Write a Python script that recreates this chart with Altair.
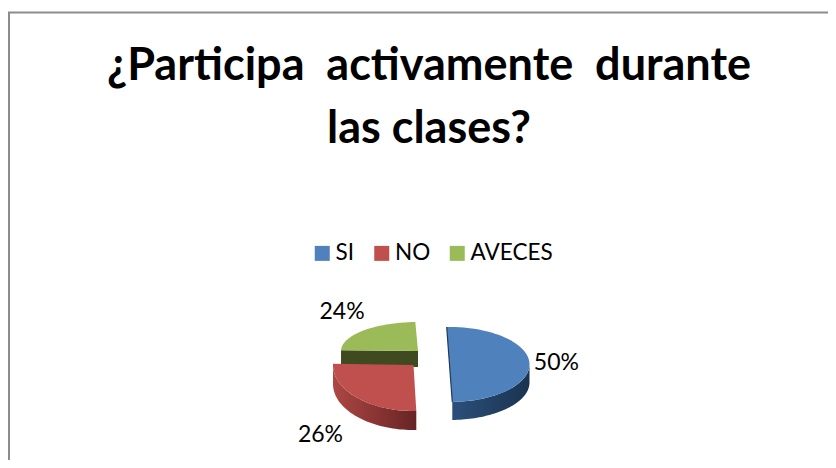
import numpy as np
import pandas as pd
import altair as alt

# --- chart values ---
categories = ["SI", "NO", "AVECES"]
shares = [50, 26, 24]
labels = ["50%", "26%", "24%"]
colors = ["#4f81bd", "#c0504d", "#9bbb59"]
title_lines = ["¿Participa\u00a0 activamente\u00a0 durante", "las clases?"]

# --- 3D pie geometry (reference pixel space) ---
W, H = 820, 452
START = -2.0
cx = [449.5, 413.5, 418.0]
cy = [364.5, 365.0, 351.0]
rx = [80.0, 80.5, 77.0]
ry = [37.5, 46.0, 29.0]
depth = [18.0, 19.0, 16.0]
lab_rx = [107.0, 132.0, 107.0]
lab_ry = [30.0, 98.0, 56.0]
draw_order = [2, 1, 0]

acc = START
spans = []
for s in shares:
    spans.append((acc, acc + s * 3.6))
    acc += s * 3.6


def pt(i, deg, dy=0.0):
    t = np.radians(deg)
    return cx[i] + rx[i] * np.sin(t), cy[i] - ry[i] * np.cos(t) + dy


tops, walls = [], []
for i, (a, b) in enumerate(spans):
    seq = 0
    tops.append(dict(cat=categories[i], s=i, n=seq, x=cx[i], y=cy[i]))
    for d in np.linspace(a, b, 60):
        seq += 1
        x, y = pt(i, d)
        tops.append(dict(cat=categories[i], s=i, n=seq, x=x, y=y))
    # outer wall: front-facing part only
    lo, hi = max(a, 90), min(b, 270)
    if hi > lo:
        ds = np.linspace(lo, hi, 50)
        pts = [pt(i, d) for d in ds] + [pt(i, d, depth[i]) for d in ds[::-1]]
        for k, (x, y) in enumerate(pts):
            walls.append(dict(s=i, n=k, x=x, y=y))

tops = pd.DataFrame(tops)
walls = pd.DataFrame(walls)

xs = alt.Scale(domain=[8, 8 + W], range=[0, W], nice=False, zero=False)
ys = alt.Scale(domain=[8, 8 + H], range=[0, H], nice=False, zero=False)
X = alt.X("x:Q", scale=xs, axis=None)
Y = alt.Y("y:Q", scale=ys, axis=None)


def grad(c0, c1):
    return alt.LinearGradient(
        gradient="linear", x1=0, x2=1, y1=0, y2=0,
        stops=[alt.GradientStop(color=c0, offset=0), alt.GradientStop(color=c1, offset=1)],
    )


wall_fill = {
    0: grad("#2c4f7a", "#1a3350"),
    1: grad("#ad4744", "#672424"),
    2: grad("#3f4a20", "#3f4a20"),
}

layers = []
# frame
frame = pd.DataFrame({"n": [0, 1, 2], "x": [9, 9, 828], "y": [460, 12.5, 12.5]})
layers.append(
    alt.Chart(frame).mark_line(color="#8c8c8c", strokeWidth=2).encode(x=X, y=Y, order="n:Q")
)

# green inner cut wall
gw = pd.DataFrame(
    {
        "n": [0, 1, 2, 3],
        "x": [pt(2, spans[2][0])[0], cx[2], cx[2], pt(2, spans[2][0])[0]],
        "y": [pt(2, spans[2][0])[1], cy[2], cy[2] + depth[2], pt(2, spans[2][0])[1] + depth[2]],
    }
)
layers.append(
    alt.Chart(gw).mark_line(interpolate="linear-closed", fill="#3f4a20", strokeWidth=0).encode(x=X, y=Y, order="n:Q")
)

color_scale = alt.Scale(domain=categories, range=colors)
legend = alt.Legend(
    title=None, orient="none", direction="horizontal", legendX=303, legendY=234,
    symbolType="square", symbolSize=225, symbolStrokeWidth=0, labelFontSize=22.5,
    labelFont="Lato", labelColor="#000000", columnPadding=15.5, labelOffset=2,
)

for i in draw_order:
    w = walls[walls.s == i]
    if len(w):
        layers.append(
            alt.Chart(w).mark_line(interpolate="linear-closed", fill=wall_fill[i], strokeWidth=0).encode(x=X, y=Y, order="n:Q")
        )
    t = tops[tops.s == i]
    layers.append(
        alt.Chart(t).mark_line(interpolate="linear-closed", fill=colors[i], strokeWidth=0).encode(x=X, y=Y, order="n:Q")
    )

# blue dark straight edge
a0 = spans[0][0]
edge = pd.DataFrame({"n": [0, 1], "x": [pt(0, a0)[0], pt(0, a0 + 180)[0]], "y": [pt(0, a0)[1], pt(0, a0 + 180)[1]]})
layers.append(alt.Chart(edge).mark_line(color="#1f3a5c", strokeWidth=1.2).encode(x=X, y=Y, order="n:Q"))

# legend carrier
leg = pd.DataFrame({"cat": categories, "x": [cx[0]] * 3, "y": [cy[0]] * 3})
layers.append(
    alt.Chart(leg).mark_square(size=0, opacity=1).encode(
        x=X, y=Y, color=alt.Color("cat:N", scale=color_scale, legend=legend)
    )
)

# data labels
lab_rows = []
for i, (a, b) in enumerate(spans):
    m = np.radians((a + b) / 2)
    lab_rows.append(dict(text=labels[i], x=cx[i] + lab_rx[i] * np.sin(m), y=cy[i] - lab_ry[i] * np.cos(m)))
layers.append(
    alt.Chart(pd.DataFrame(lab_rows)).mark_text(font="Lato", fontSize=23, color="#000000").encode(x=X, y=Y, text="text:N")
)

# title as two centred lines
tdf = pd.DataFrame({"text": title_lines, "x": [429, 429], "y": [66, 129]})
layers.append(
    alt.Chart(tdf).mark_text(font="Lato", fontSize=45, fontWeight="bold", color="#000000").encode(x=X, y=Y, text="text:N")
)

chart = (
    alt.layer(*layers)
    .properties(width=W, height=H, padding=0, autosize=alt.AutoSizeParams(type="none"), background="#ffffff")
    .configure_view(stroke=None)
)
chart.save("out.html", embed_options={"renderer": "svg", "actions": False})
